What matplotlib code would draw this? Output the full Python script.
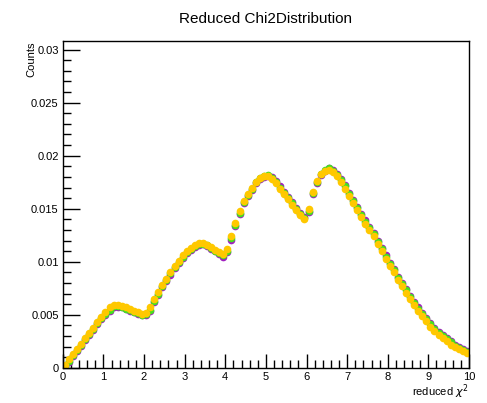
import numpy as np
import matplotlib
matplotlib.use("Agg")
import matplotlib.pyplot as plt
from matplotlib.ticker import MultipleLocator, FixedFormatter, FixedLocator

plt.rcParams['font.family'] = ['Liberation Sans', 'DejaVu Sans']

# bin centres of the reduced chi2 histograms
bin_centers = np.arange(100) * 0.1 + 0.05

counts_purple = [0.0002, 0.0006, 0.0011, 0.0016, 0.0021, 0.0026, 0.0031, 0.0036, 0.0041, 0.0046,
                 0.0050, 0.0054, 0.0057, 0.0057, 0.0057, 0.0056, 0.0054, 0.0053, 0.0051, 0.0050,
                 0.0050, 0.0054, 0.0062, 0.0069, 0.0076, 0.0082, 0.0088, 0.0094, 0.0099, 0.0104,
                 0.0108, 0.0111, 0.0114, 0.0116, 0.0117, 0.0115, 0.0112, 0.0110, 0.0107, 0.0105,
                 0.0109, 0.0121, 0.0134, 0.0145, 0.0155, 0.0162, 0.0168, 0.0174, 0.0178, 0.0180,
                 0.0181, 0.0180, 0.0176, 0.0171, 0.0166, 0.0161, 0.0156, 0.0151, 0.0146, 0.0142,
                 0.0147, 0.0164, 0.0174, 0.0182, 0.0186, 0.0188, 0.0187, 0.0183, 0.0178, 0.0172,
                 0.0165, 0.0158, 0.0152, 0.0145, 0.0139, 0.0133, 0.0127, 0.0120, 0.0113, 0.0106,
                 0.0099, 0.0093, 0.0086, 0.0080, 0.0074, 0.0068, 0.0062, 0.0057, 0.0052, 0.0047,
                 0.0042, 0.0038, 0.0034, 0.0031, 0.0028, 0.0025, 0.0022, 0.0020, 0.0018, 0.0016]

counts_green = [0.0002, 0.0007, 0.0012, 0.0017, 0.0022, 0.0027, 0.0032, 0.0037, 0.0042, 0.0047,
                0.0051, 0.0055, 0.0058, 0.0058, 0.0057, 0.0056, 0.0055, 0.0053, 0.0052, 0.0050,
                0.0051, 0.0055, 0.0063, 0.0070, 0.0077, 0.0083, 0.0089, 0.0095, 0.0100, 0.0105,
                0.0109, 0.0112, 0.0115, 0.0117, 0.0117, 0.0116, 0.0113, 0.0110, 0.0108, 0.0106,
                0.0110, 0.0122, 0.0135, 0.0146, 0.0156, 0.0163, 0.0169, 0.0175, 0.0179, 0.0181,
                0.0182, 0.0179, 0.0175, 0.0170, 0.0165, 0.0160, 0.0155, 0.0150, 0.0145, 0.0141,
                0.0148, 0.0165, 0.0175, 0.0183, 0.0187, 0.0188, 0.0186, 0.0182, 0.0177, 0.0171,
                0.0164, 0.0157, 0.0151, 0.0144, 0.0138, 0.0132, 0.0126, 0.0119, 0.0112, 0.0105,
                0.0098, 0.0092, 0.0085, 0.0079, 0.0073, 0.0067, 0.0061, 0.0056, 0.0051, 0.0046,
                0.0041, 0.0037, 0.0033, 0.0030, 0.0027, 0.0024, 0.0021, 0.0019, 0.0017, 0.0015]

counts_yellow = [0.0003, 0.0008, 0.0013, 0.0018, 0.0023, 0.0028, 0.0033, 0.0038, 0.0043, 0.0048,
                 0.0053, 0.0057, 0.0059, 0.0059, 0.0058, 0.0057, 0.0056, 0.0054, 0.0053, 0.0051,
                 0.0052, 0.0057, 0.0065, 0.0072, 0.0078, 0.0084, 0.0090, 0.0096, 0.0101, 0.0106,
                 0.0110, 0.0113, 0.0116, 0.0118, 0.0118, 0.0116, 0.0114, 0.0111, 0.0109, 0.0107,
                 0.0112, 0.0124, 0.0137, 0.0148, 0.0157, 0.0164, 0.0170, 0.0175, 0.0179, 0.0181,
                 0.0181, 0.0178, 0.0174, 0.0169, 0.0164, 0.0159, 0.0154, 0.0149, 0.0144, 0.0140,
                 0.0150, 0.0166, 0.0176, 0.0183, 0.0186, 0.0187, 0.0185, 0.0181, 0.0175, 0.0169,
                 0.0162, 0.0155, 0.0149, 0.0142, 0.0136, 0.0130, 0.0124, 0.0117, 0.0110, 0.0103,
                 0.0096, 0.0090, 0.0083, 0.0077, 0.0071, 0.0065, 0.0059, 0.0054, 0.0049, 0.0044,
                 0.0039, 0.0035, 0.0031, 0.0028, 0.0025, 0.0022, 0.0020, 0.0018, 0.0016, 0.0014]

y_ticks = [0, 0.005, 0.01, 0.015, 0.02, 0.025, 0.03]
y_tick_labels = ["0", "0.005", "0.01", "0.015", "0.02", "0.025", "0.03"]
x_ticks = [0, 1, 2, 3, 4, 5, 6, 7, 8, 9, 10]

fig = plt.figure(figsize=(4.87, 4.03), dpi=100)
ax = fig.add_axes([0.129, 0.087, 0.834, 0.811])

# drawn in this order so the yellow sits on top
ax.plot(bin_centers, counts_purple, 'o', color='#a01fc0', markersize=5.5, markeredgewidth=0)
ax.plot(bin_centers, counts_green, 'o', color='#44e020', markersize=5.5, markeredgewidth=0)
ax.plot(bin_centers, counts_yellow, 'o', color='#ffc800', markersize=5.5, markeredgewidth=0)

ax.set_xlim(0, 10)
ax.set_ylim(0, 0.0308)

ax.xaxis.set_major_locator(FixedLocator(x_ticks))
ax.xaxis.set_minor_locator(MultipleLocator(0.2))
ax.yaxis.set_major_locator(FixedLocator(y_ticks))
ax.yaxis.set_major_formatter(FixedFormatter(y_tick_labels))
ax.yaxis.set_minor_locator(MultipleLocator(0.001))

ax.tick_params(which='both', direction='in', top=False, right=False, labelsize=8, width=1)
ax.tick_params(axis='y', which='major', length=12, pad=3)
ax.tick_params(axis='y', which='minor', length=6)
ax.tick_params(axis='x', which='major', length=10, pad=3)
ax.tick_params(axis='x', which='minor', length=6)
for sp in ax.spines.values():
    sp.set_linewidth(1)

ax.set_title("Reduced Chi2Distribution", fontsize=11, pad=13)
fig.text(0.963, 0.027, r"reduced $\chi^{2}$", ha='right', va='center', fontsize=8)
fig.text(0.065, 0.898, "Counts", rotation=90, ha='center', va='top', fontsize=8)

fig.savefig("out.png", dpi=100)
